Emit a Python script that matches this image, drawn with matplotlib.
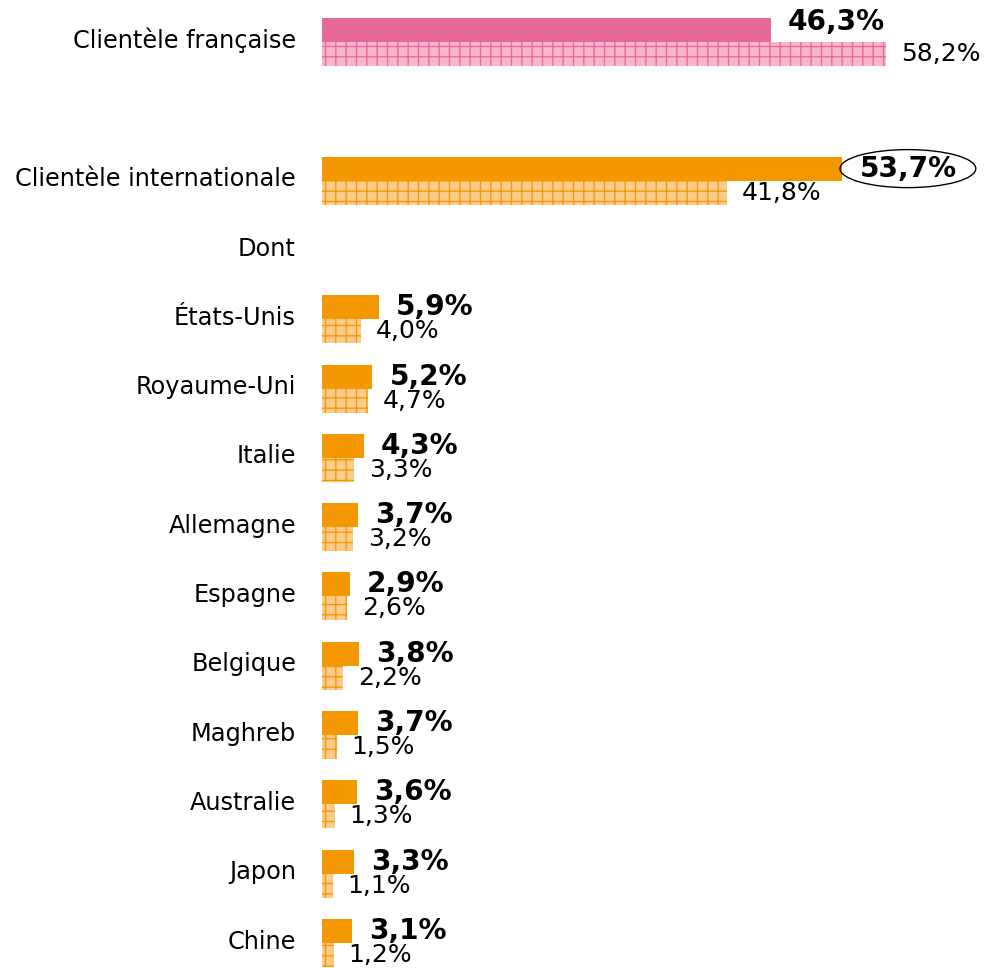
import matplotlib
matplotlib.use("Agg")
from matplotlib import pyplot as plt

categories = ["Clientèle française", "Clientèle internationale", "Dont",
              "États-Unis", "Royaume-Uni", "Italie", "Allemagne", "Espagne",
              "Belgique", "Maghreb", "Australie", "Japon", "Chine"]
rows = [0, 2, 3, 4, 5, 6, 7, 8, 9, 10, 11, 12, 13]
# top (solid) bar and bottom (grid) bar, None for the "Dont" line
top_values = [46.3, 53.7, None, 5.9, 5.2, 4.3, 3.7, 2.9, 3.8, 3.7, 3.6, 3.3, 3.1]
bottom_values = [58.2, 41.8, None, 4.0, 4.7, 3.3, 3.2, 2.6, 2.2, 1.5, 1.3, 1.1, 1.2]

PINK = "#e8689a"
PINK_LIGHT = "#f7b6cc"
ORANGE = "#f39800"
ORANGE_LIGHT = "#fbcb8b"

DPI = 124


def px(v):
    # pixels -> points
    return v * 72 / DPI


plt.rcParams["font.family"] = ["DejaVu Sans"]
plt.rcParams["hatch.linewidth"] = 0.75

fig = plt.figure(figsize=(989 / DPI, 968 / DPI), dpi=DPI)
W, H = 989, 968
ax = fig.add_axes([322 / W, 0, 1 - 322 / W, 1])
ax.set_xlim(0, (W - 322) / 9.69)
ax.set_ylim(13 + 25 / 69.33, -42 / 69.33)
ax.axis("off")

bh = 0.346
for i, (cat, r, tv, bv) in enumerate(zip(categories, rows, top_values, bottom_values)):
    ax.text(-26 / 9.69, r - 0.02, cat, ha="right", va="center", fontsize=px(24))
    if tv is None:
        continue
    dark, light = (PINK, PINK_LIGHT) if i == 0 else (ORANGE, ORANGE_LIGHT)
    ax.barh(r - bh / 2, tv, height=bh, color=dark, linewidth=0)
    ax.barh(r + bh / 2, bv, height=bh, color=light, edgecolor=dark,
            hatch="++", linewidth=0)
    ax.annotate(f"{bv:.1f}%".replace(".", ","), (bv, r + bh / 2),
                xytext=(px(15), 0), textcoords="offset points",
                ha="left", va="center", fontsize=px(25), zorder=3)
    dy = px(8) if i == 0 else 0
    kw = {}
    if i == 1:
        kw["bbox"] = dict(boxstyle="ellipse,pad=-0.02", fc="none", ec="black", lw=0.8)
    ax.annotate(f"{tv:.1f}%".replace(".", ","), (tv, r - bh / 2),
                xytext=(px(17), dy), textcoords="offset points",
                ha="left", va="center", fontsize=px(28), fontweight="bold",
                zorder=4, **kw)

fig.savefig("out.png", dpi=DPI)
